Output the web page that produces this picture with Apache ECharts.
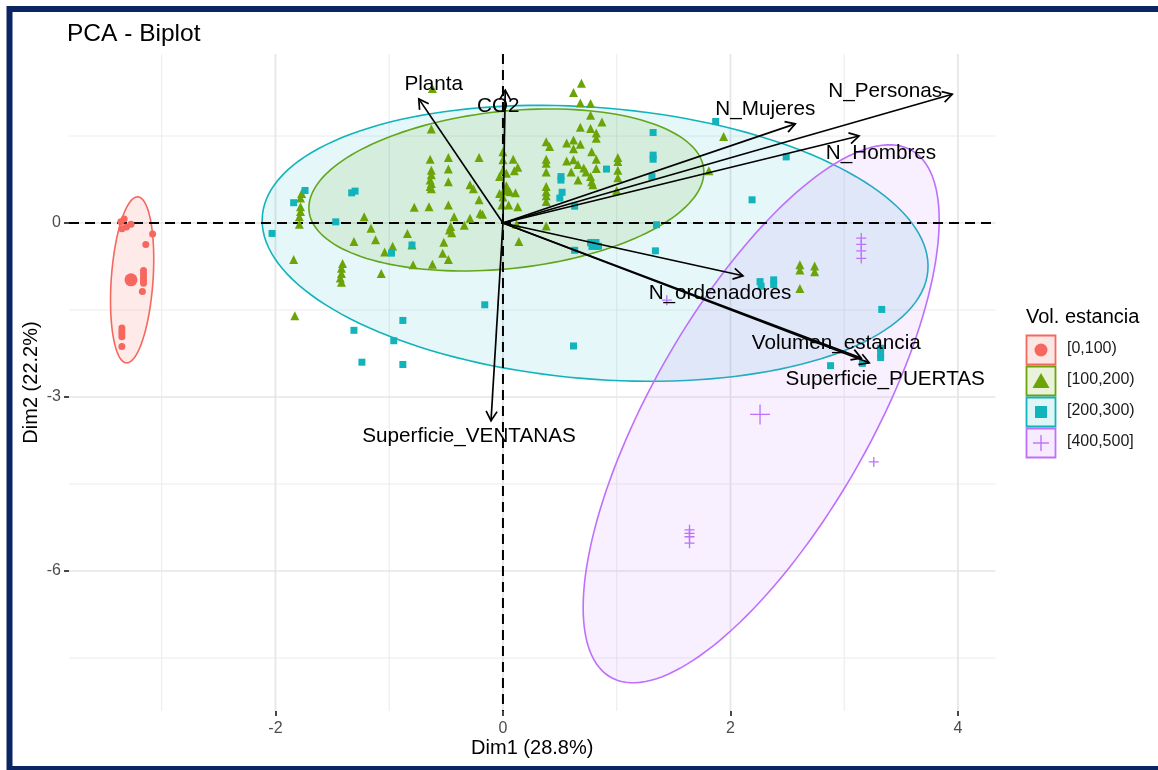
<!DOCTYPE html>
<html><head><meta charset="utf-8">
<script src="https://cdn.jsdelivr.net/npm/echarts@6/dist/echarts.min.js"></script>
<style>html,body{margin:0;padding:0;background:#fff;}#chart{width:1158px;height:770px;}</style>
</head><body><div id="chart"></div>
<script>
// ---------- data ----------
const groups = ['[0,100)', '[100,200)', '[200,300)', '[400,500]'];
const legendTitle = 'Vol. estancia';
const chartTitle = 'PCA - Biplot';
const xAxisTitle = 'Dim1 (28.8%)';
const yAxisTitle = 'Dim2 (22.2%)';

const xMajorTicks = [-2, 0, 2, 4];
const xMinorTicks = [-3, -1, 1, 3];
const yMajorTicks = [0, -3, -6];
const yMinorTicks = [1.5, -1.5, -4.5, -7.5];

const pts0_100 = [[-3.36,0.02],[-3.33,0.07],[-3.31,-0.07],[-3.35,-0.10],[-3.27,-0.02],[-3.08,-0.19],[-3.14,-0.37],[-3.16,-0.82],[-3.16,-0.88],[-3.16,-0.94],[-3.16,-0.99],[-3.16,-1.04],[-3.17,-1.18],[-3.35,-1.81],[-3.35,-1.86],[-3.35,-1.91],[-3.35,-1.96],[-3.35,-2.13]];
const pts100_200 = [[-0.62,2.32],[-0.63,1.62],[-0.64,1.10],[-0.48,1.13],[-0.21,1.13],[-0.63,0.91],[-0.48,0.93],[-0.63,0.83],[-0.64,0.74],[-0.63,0.68],[-0.64,0.63],[-0.63,0.59],[-0.48,0.71],[-0.29,0.66],[-0.26,0.59],[-0.21,0.40],[-0.78,0.27],[-0.65,0.28],[-0.48,0.31],[-0.20,0.17],[-0.18,0.15],[-0.29,0.08],[-0.43,0.11],[-0.34,-0.04],[-0.46,-0.06],[-0.47,-0.12],[-0.45,-0.17],[-1.22,0.11],[-1.16,-0.09],[-0.84,-0.18],[-1.12,-0.29],[-1.31,-0.32],[-0.97,-0.40],[-1.04,-0.50],[-0.80,-0.38],[-0.52,-0.33],[-0.53,-0.52],[-0.48,-0.63],[-0.79,-0.72],[-0.62,-0.71],[-1.07,-0.87],[-1.84,-0.63],[-1.41,-0.70],[-1.42,-0.78],[-1.42,-0.87],[-1.43,-0.95],[-1.42,-1.02],[-1.77,0.51],[-1.78,0.43],[-1.78,0.28],[-1.78,0.20],[-1.79,0.11],[-1.79,-0.02],[-1.83,-1.60],[0.69,2.41],[0.62,2.25],[0.68,2.07],[0.77,2.06],[0.77,1.86],[0.87,1.74],[0.68,1.65],[0.77,1.63],[0.82,1.55],[0.82,1.46],[0.38,1.40],[0.41,1.32],[0.56,1.38],[0.62,1.43],[0.68,1.36],[0.62,1.28],[0.78,1.23],[0.38,1.10],[0.38,1.03],[0.56,1.07],[0.62,1.09],[0.66,1.01],[0.82,1.10],[0.71,0.95],[0.73,0.88],[0.82,0.94],[0.60,0.88],[0.66,0.74],[0.77,0.80],[0.78,0.71],[0.79,0.66],[1.01,1.13],[1.01,1.06],[1.01,0.91],[1.01,0.78],[1.00,0.56],[0.38,0.88],[0.38,0.63],[0.38,0.54],[0.38,0.47],[0.38,0.37],[0.09,1.10],[0.13,0.96],[0.10,0.90],[0.00,1.23],[0.00,1.09],[0.00,0.91],[0.03,0.86],[0.06,0.54],[0.11,0.52],[0.00,0.45],[-0.01,0.31],[0.05,0.31],[0.13,0.28],[0.38,-0.05],[0.14,-0.32],[0.12,-0.02],[1.94,1.49],[1.81,0.90],[2.61,-0.72],[2.61,-0.81],[2.74,-0.74],[2.74,-0.84],[2.61,-1.13],[-0.03,0.80],[-0.03,0.51]];
const pts200_300 = [[-1.74,0.56],[-1.84,0.35],[-1.33,0.52],[-1.30,0.55],[-1.47,0.02],[-2.03,-0.18],[-0.80,-0.38],[-0.98,-0.52],[1.87,1.75],[1.32,1.56],[1.32,1.17],[1.32,1.10],[1.31,0.80],[0.91,0.93],[0.51,0.80],[0.51,0.74],[0.52,0.53],[0.50,0.43],[0.63,0.29],[1.35,-0.03],[0.63,-0.47],[0.77,-0.34],[0.84,-0.40],[1.34,-0.48],[2.49,1.14],[2.19,0.40],[2.26,-1.01],[2.27,-1.09],[2.38,-0.98],[2.38,-1.06],[3.33,-1.49],[3.32,-2.16],[3.32,-2.25],[3.32,-2.32],[2.88,-2.46],[3.16,-2.42],[-0.16,-1.41],[-0.88,-1.68],[-1.31,-1.85],[-0.96,-2.03],[-1.24,-2.40],[-0.88,-2.44],[0.62,-2.12]];
const pts400_500 = [[3.15,-0.26],[3.15,-0.37],[3.15,-0.48],[3.15,-0.61],[1.44,-1.33],[3.26,-4.12],[1.64,-5.29],[1.64,-5.35],[1.64,-5.41],[1.64,-5.52]];
const groupMeans = [[-3.27,-0.98],[0.03,0.60],[0.80,-0.37],[2.26,-3.30]];

// confidence ellipses: centre, half-extent along x and y, correlation
const ellipseCx = [-3.26, 0.03, 0.81, 2.27];
const ellipseCy = [-0.98, 0.57, -0.35, -3.29];
const ellipseHalfW = [0.19, 1.736, 2.927, 1.565];
const ellipseHalfH = [1.431, 1.397, 2.379, 4.638];
const ellipseCorr = [0.25, 0.22, -0.165, 0.72];

// variable arrows (loadings)
const varNames = ['Planta','CO2','N_Personas','N_Mujeres','N_Hombres','N_ordenadores','Volumen_estancia','Superficie_PUERTAS','Superficie_VENTANAS'];
const varX = [-0.74, 0.02, 3.95, 2.57, 3.13, 2.11, 3.15, 3.22, -0.105];
const varY = [2.14, 2.29, 2.22, 1.71, 1.50, -0.91, -2.33, -2.41, -3.41];

// ---------- styles ----------
const FONT = '"Liberation Sans", Arial, Helvetica, sans-serif';
const colors = ['#F5675F', '#6CA408', '#12B4BC', '#BE70FC'];
const fillAlpha = [0.14, 0.12, 0.11, 0.11];
const labelOffsets = [[15,-15],[-7,16],[-67,-3],[-30,-15],[22,17],[-23,18],[-25,-15],[16,17],[-22,16]];
const X_MIN = -3.815, X_MAX = 4.33, Y_MIN = -8.414, Y_MAX = 2.914;

function rgba(hex, a){const n=parseInt(hex.slice(1),16);return `rgba(${n>>16&255},${n>>8&255},${n&255},${a})`;}

const allPts = [pts0_100, pts100_200, pts200_300, pts400_500];
const symbols = ['circle', 'triangle', 'rect', 'path://M0,5L10,5M5,0L5,10'];
const sizes = [7, 9, 7, 10];
const meanSizes = [13, 14, 11, 20];

const chart = echarts.init(document.getElementById('chart'), null, {renderer:'canvas'});

function vLine(width, color){
  return function(params, api){
    const v = api.value(0);
    const a = api.coord([v, Y_MAX]), b = api.coord([v, Y_MIN]);
    return {type:'line', shape:{x1:a[0],y1:a[1],x2:b[0],y2:b[1]}, style:{stroke:color, lineWidth:width}};
  };
}
function hLine(width, color){
  return function(params, api){
    const v = api.value(1);
    const a = api.coord([X_MIN, v]), b = api.coord([X_MAX, v]);
    return {type:'line', shape:{x1:a[0],y1:a[1],x2:b[0],y2:b[1]}, style:{stroke:color, lineWidth:width}};
  };
}

const series = [];
series.push({type:'custom', z:1, silent:true, data:xMinorTicks.map(v=>[v,0]), renderItem:vLine(1, '#ececec')});
series.push({type:'custom', z:1, silent:true, data:yMinorTicks.map(v=>[0,v]), renderItem:hLine(1, '#ececec')});
series.push({type:'custom', z:1, silent:true, data:xMajorTicks.map(v=>[v,0]), renderItem:vLine(1.7, '#e6e6e6')});
series.push({type:'custom', z:1, silent:true, data:yMajorTicks.map(v=>[0,v]), renderItem:hLine(1.7, '#e6e6e6')});

// ellipses
series.push({
  type:'custom', z:2, silent:true,
  data: groups.map((g,i)=>[ellipseCx[i], ellipseCy[i], i]),
  renderItem(params, api){
    const i = api.value(2);
    const cx=ellipseCx[i], cy=ellipseCy[i], W=ellipseHalfW[i], H=ellipseHalfH[i], r=ellipseCorr[i];
    const s = Math.sqrt(1-r*r); const pts=[];
    for(let k=0;k<=160;k++){const t=2*Math.PI*k/160;pts.push(api.coord([cx+W*Math.cos(t), cy+H*(r*Math.cos(t)+s*Math.sin(t))]));}
    return {type:'polygon', shape:{points:pts}, style:{fill:rgba(colors[i],fillAlpha[i]), stroke:colors[i], lineWidth:1.6}};
  }
});

// zero reference lines
series.push({type:'custom', z:3, silent:true, data:[[0,0]], renderItem(params, api){
  const h1=api.coord([X_MIN,0]), h2=api.coord([X_MAX,0]), v1=api.coord([0,Y_MAX]), v2=api.coord([0,Y_MIN]);
  return {type:'group', children:[
    {type:'line', shape:{x1:h1[0],y1:h1[1],x2:h2[0],y2:h2[1]}, style:{stroke:'#000', lineWidth:2, lineDash:[10,6]}},
    {type:'line', shape:{x1:v1[0],y1:v1[1],x2:v2[0],y2:v2[1]}, style:{stroke:'#000', lineWidth:2, lineDash:[10,6]}}
  ]};
}});

// points
groups.forEach((g,i)=>{
  const data = allPts[i].map(p=>({value:p}));
  data.push({value:groupMeans[i], symbolSize:meanSizes[i]});
  const isCross = i===3;
  series.push({
    type:'scatter', name:g, z:4, symbol:symbols[i], symbolSize:sizes[i], data,
    itemStyle: isCross ? {color:'rgba(0,0,0,0)', borderColor:colors[i], borderWidth:1.3, opacity:1}
                       : {color:colors[i], opacity:1}
  });
});

// arrows
series.push({type:'custom', z:5, silent:true, data:varNames.map((n,i)=>[varX[i],varY[i],i]), renderItem(params, api){
  const o=api.coord([0,0]), p=api.coord([api.value(0),api.value(1)]);
  const ang=Math.atan2(p[1]-o[1],p[0]-o[0]), L=11, a=Math.PI/6;
  const h1=[p[0]-L*Math.cos(ang-a),p[1]-L*Math.sin(ang-a)], h2=[p[0]-L*Math.cos(ang+a),p[1]-L*Math.sin(ang+a)];
  return {type:'group', children:[
    {type:'line', shape:{x1:o[0],y1:o[1],x2:p[0],y2:p[1]}, style:{stroke:'#000', lineWidth:1.7}},
    {type:'polyline', shape:{points:[h1,p,h2]}, style:{stroke:'#000', lineWidth:1.7, fill:null}}
  ]};
}});
// arrow labels
series.push({type:'custom', z:6, silent:true, data:varNames.map((n,i)=>[varX[i],varY[i],i]), renderItem(params, api){
  const i=api.value(2), p=api.coord([api.value(0),api.value(1)]), off=labelOffsets[i];
  return {type:'text', x:p[0]+off[0], y:p[1]+off[1], style:{text:varNames[i], fill:'#000', font:'20.7px '+FONT, align:'center', verticalAlign:'middle', textAlign:'center', textVerticalAlign:'middle'}};
}});

// legend graphics
const legendEls = [{type:'text', left:1026, top:307, style:{text:legendTitle, fill:'#000', font:'20px '+FONT}}];
groups.forEach((g,i)=>{
  const y0 = 335 + 31*i, cx = 1041, cy = y0 + 15;
  legendEls.push({type:'rect', shape:{x:1026.5, y:y0+0.5, width:29, height:29}, style:{fill:rgba(colors[i],fillAlpha[i]+0.02), stroke:colors[i], lineWidth:1.8}});
  if(i===0) legendEls.push({type:'circle', shape:{cx, cy, r:6.5}, style:{fill:colors[i]}});
  if(i===1) legendEls.push({type:'polygon', shape:{points:[[cx-8.5,cy+7],[cx+8.5,cy+7],[cx,cy-8]]}, style:{fill:colors[i]}});
  if(i===2) legendEls.push({type:'rect', shape:{x:cx-6, y:cy-6, width:12, height:12}, style:{fill:colors[i]}});
  if(i===3) legendEls.push({type:'group', children:[
    {type:'line', shape:{x1:cx-8,y1:cy,x2:cx+8,y2:cy}, style:{stroke:colors[i], lineWidth:1.4}},
    {type:'line', shape:{x1:cx,y1:cy-8,x2:cx,y2:cy+8}, style:{stroke:colors[i], lineWidth:1.4}}]});
  legendEls.push({type:'text', left:1067, top:cy-9, style:{text:g, fill:'#1a1a1a', font:'16px '+FONT}});
});
legendEls.push({type:'rect', z:100, shape:{x:9.5, y:9, width:1400, height:760}, style:{fill:null, stroke:'#0b2562', lineWidth:6}});

chart.setOption({
  animation:false,
  backgroundColor:'#fff',
  title:{text:chartTitle, left:67, top:22, padding:0, textStyle:{fontFamily:FONT, fontSize:24.5, fontWeight:'normal', color:'#000'}},
  grid:{left:69, right:162.5, top:54, bottom:59, containLabel:false, outerBoundsMode:'none'},
  xAxis:{type:'value', min:X_MIN, max:X_MAX, name:xAxisTitle, nameLocation:'middle', nameGap:27, nameMoveOverlap:false,
    nameTextStyle:{fontFamily:FONT, fontSize:20, color:'#000'},
    axisLine:{show:false, onZero:false}, splitLine:{show:false},
    axisTick:{show:true, customValues:xMajorTicks, length:5, lineStyle:{color:'#333', width:1.8}},
    axisLabel:{customValues:xMajorTicks, margin:10, fontFamily:FONT, fontSize:16, color:'#4d4d4d', formatter:v=>String(v)}},
  yAxis:{type:'value', min:Y_MIN, max:Y_MAX, name:yAxisTitle, nameLocation:'middle', nameGap:28, nameMoveOverlap:false,
    nameTextStyle:{fontFamily:FONT, fontSize:20, color:'#000'},
    axisLine:{show:false, onZero:false}, splitLine:{show:false},
    axisTick:{show:true, customValues:yMajorTicks, length:5, lineStyle:{color:'#333', width:1.8}},
    axisLabel:{customValues:yMajorTicks, margin:8, fontFamily:FONT, fontSize:16, color:'#4d4d4d', formatter:v=>String(v)}},
  graphic:legendEls,
  series
});
</script></body></html>
